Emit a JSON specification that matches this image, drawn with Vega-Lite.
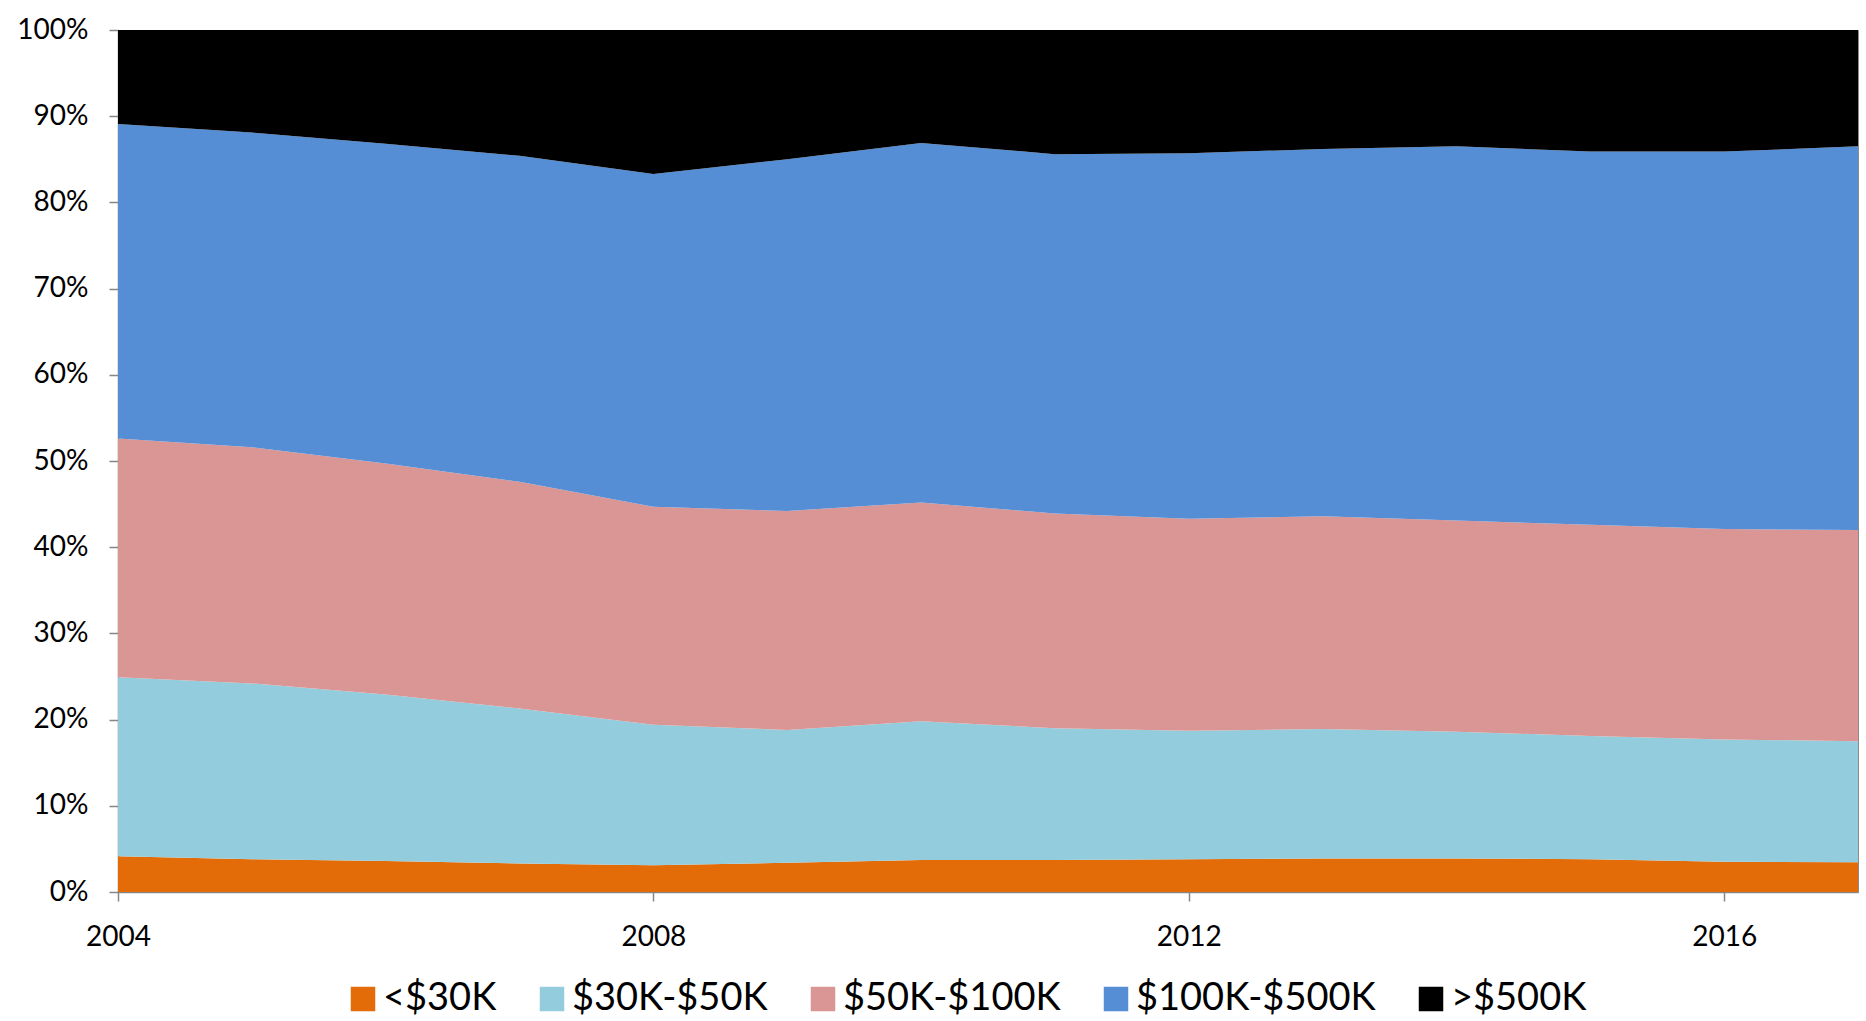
{
  "$schema": "https://vega.github.io/schema/vega-lite/v6.json",
  "autosize": "none",
  "width": 1740,
  "height": 862,
  "padding": {"left": 118, "top": 30, "right": 8, "bottom": 129},
  "background": "white",
  "config": {
    "font": "Lato",
    "view": {"stroke": "#8c8c8c", "strokeWidth": 1},
    "axis": {
      "grid": false,
      "domainColor": "#868686",
      "domainWidth": 1.5,
      "tickColor": "#868686",
      "tickWidth": 1.5,
      "tickSize": 9,
      "labelColor": "#000000",
      "labelFont": "Lato",
      "labelFontSize": 28,
      "title": null
    },
    "legend": {
      "labelFont": "Lato",
      "labelFontSize": 38,
      "labelColor": "#000000",
      "labelLimit": 400
    }
  },
  "data": {
    "values": [
      {"year": 2004, "band": "<$30K", "k": 1, "share": 4.15},
      {"year": 2004, "band": "$30K-$50K", "k": 2, "share": 20.75},
      {"year": 2004, "band": "$50K-$100K", "k": 3, "share": 27.7},
      {"year": 2004, "band": "$100K-$500K", "k": 4, "share": 36.5},
      {"year": 2004, "band": ">$500K", "k": 5, "share": 10.9},
      {"year": 2005, "band": "<$30K", "k": 1, "share": 3.8},
      {"year": 2005, "band": "$30K-$50K", "k": 2, "share": 20.4},
      {"year": 2005, "band": "$50K-$100K", "k": 3, "share": 27.4},
      {"year": 2005, "band": "$100K-$500K", "k": 4, "share": 36.5},
      {"year": 2005, "band": ">$500K", "k": 5, "share": 11.9},
      {"year": 2006, "band": "<$30K", "k": 1, "share": 3.6},
      {"year": 2006, "band": "$30K-$50K", "k": 2, "share": 19.3},
      {"year": 2006, "band": "$50K-$100K", "k": 3, "share": 26.8},
      {"year": 2006, "band": "$100K-$500K", "k": 4, "share": 37.1},
      {"year": 2006, "band": ">$500K", "k": 5, "share": 13.2},
      {"year": 2007, "band": "<$30K", "k": 1, "share": 3.3},
      {"year": 2007, "band": "$30K-$50K", "k": 2, "share": 18.0},
      {"year": 2007, "band": "$50K-$100K", "k": 3, "share": 26.3},
      {"year": 2007, "band": "$100K-$500K", "k": 4, "share": 37.8},
      {"year": 2007, "band": ">$500K", "k": 5, "share": 14.6},
      {"year": 2008, "band": "<$30K", "k": 1, "share": 3.1},
      {"year": 2008, "band": "$30K-$50K", "k": 2, "share": 16.3},
      {"year": 2008, "band": "$50K-$100K", "k": 3, "share": 25.3},
      {"year": 2008, "band": "$100K-$500K", "k": 4, "share": 38.6},
      {"year": 2008, "band": ">$500K", "k": 5, "share": 16.7},
      {"year": 2009, "band": "<$30K", "k": 1, "share": 3.4},
      {"year": 2009, "band": "$30K-$50K", "k": 2, "share": 15.4},
      {"year": 2009, "band": "$50K-$100K", "k": 3, "share": 25.4},
      {"year": 2009, "band": "$100K-$500K", "k": 4, "share": 40.8},
      {"year": 2009, "band": ">$500K", "k": 5, "share": 15.0},
      {"year": 2010, "band": "<$30K", "k": 1, "share": 3.7},
      {"year": 2010, "band": "$30K-$50K", "k": 2, "share": 16.1},
      {"year": 2010, "band": "$50K-$100K", "k": 3, "share": 25.4},
      {"year": 2010, "band": "$100K-$500K", "k": 4, "share": 41.7},
      {"year": 2010, "band": ">$500K", "k": 5, "share": 13.1},
      {"year": 2011, "band": "<$30K", "k": 1, "share": 3.7},
      {"year": 2011, "band": "$30K-$50K", "k": 2, "share": 15.3},
      {"year": 2011, "band": "$50K-$100K", "k": 3, "share": 24.9},
      {"year": 2011, "band": "$100K-$500K", "k": 4, "share": 41.7},
      {"year": 2011, "band": ">$500K", "k": 5, "share": 14.4},
      {"year": 2012, "band": "<$30K", "k": 1, "share": 3.8},
      {"year": 2012, "band": "$30K-$50K", "k": 2, "share": 14.9},
      {"year": 2012, "band": "$50K-$100K", "k": 3, "share": 24.6},
      {"year": 2012, "band": "$100K-$500K", "k": 4, "share": 42.4},
      {"year": 2012, "band": ">$500K", "k": 5, "share": 14.3},
      {"year": 2013, "band": "<$30K", "k": 1, "share": 3.9},
      {"year": 2013, "band": "$30K-$50K", "k": 2, "share": 15.0},
      {"year": 2013, "band": "$50K-$100K", "k": 3, "share": 24.7},
      {"year": 2013, "band": "$100K-$500K", "k": 4, "share": 42.6},
      {"year": 2013, "band": ">$500K", "k": 5, "share": 13.8},
      {"year": 2014, "band": "<$30K", "k": 1, "share": 3.9},
      {"year": 2014, "band": "$30K-$50K", "k": 2, "share": 14.7},
      {"year": 2014, "band": "$50K-$100K", "k": 3, "share": 24.5},
      {"year": 2014, "band": "$100K-$500K", "k": 4, "share": 43.4},
      {"year": 2014, "band": ">$500K", "k": 5, "share": 13.5},
      {"year": 2015, "band": "<$30K", "k": 1, "share": 3.8},
      {"year": 2015, "band": "$30K-$50K", "k": 2, "share": 14.3},
      {"year": 2015, "band": "$50K-$100K", "k": 3, "share": 24.5},
      {"year": 2015, "band": "$100K-$500K", "k": 4, "share": 43.3},
      {"year": 2015, "band": ">$500K", "k": 5, "share": 14.1},
      {"year": 2016, "band": "<$30K", "k": 1, "share": 3.5},
      {"year": 2016, "band": "$30K-$50K", "k": 2, "share": 14.2},
      {"year": 2016, "band": "$50K-$100K", "k": 3, "share": 24.4},
      {"year": 2016, "band": "$100K-$500K", "k": 4, "share": 43.8},
      {"year": 2016, "band": ">$500K", "k": 5, "share": 14.1},
      {"year": 2017, "band": "<$30K", "k": 1, "share": 3.45},
      {"year": 2017, "band": "$30K-$50K", "k": 2, "share": 14.05},
      {"year": 2017, "band": "$50K-$100K", "k": 3, "share": 24.5},
      {"year": 2017, "band": "$100K-$500K", "k": 4, "share": 44.5},
      {"year": 2017, "band": ">$500K", "k": 5, "share": 13.5}
    ]
  },
  "mark": {"type": "area", "interpolate": "linear", "opacity": 1},
  "encoding": {
    "x": {
      "field": "year",
      "type": "quantitative",
      "scale": {"domain": [2004, 2017], "nice": false, "zero": false},
      "axis": {
        "values": [2004, 2008, 2012, 2016],
        "format": "d",
        "labelPadding": 22,
        "labelFlush": false
      }
    },
    "y": {
      "field": "share",
      "type": "quantitative",
      "stack": "normalize",
      "scale": {"domain": [0, 1], "nice": false},
      "axis": {
        "values": [0, 0.1, 0.2, 0.3, 0.4, 0.5, 0.6, 0.7, 0.8, 0.9, 1],
        "format": ".0%",
        "labelPadding": 21
      }
    },
    "color": {
      "field": "band",
      "type": "nominal",
      "sort": ["<$30K", "$30K-$50K", "$50K-$100K", "$100K-$500K", ">$500K"],
      "scale": {
        "domain": ["<$30K", "$30K-$50K", "$50K-$100K", "$100K-$500K", ">$500K"],
        "range": ["#E36C09", "#93CDDD", "#D99694", "#558ED5", "#000000"]
      },
      "legend": {
        "title": null,
        "orient": "none",
        "direction": "horizontal",
        "legendX": 226,
        "legendY": 950,
        "symbolType": "square",
        "symbolSize": 600,
        "symbolStrokeWidth": 0,
        "symbolOpacity": 1,
        "labelOffset": 1,
        "columnPadding": 36
      }
    },
    "order": {"field": "k", "type": "quantitative"}
  }
}
